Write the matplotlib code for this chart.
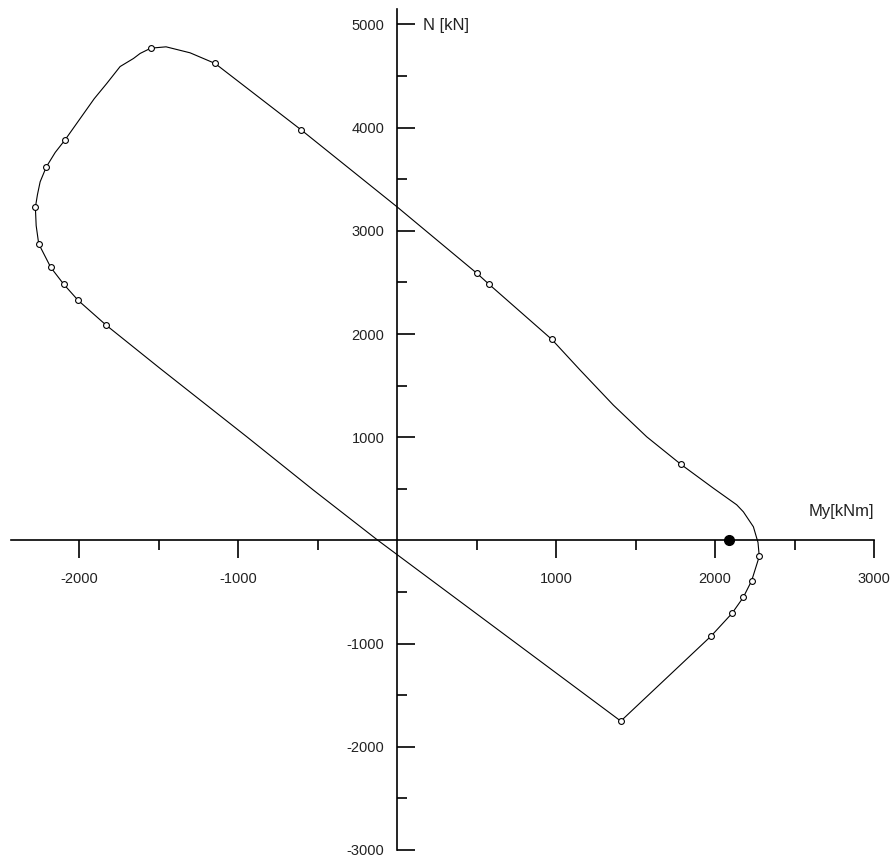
import numpy as np
import matplotlib
matplotlib.use("Agg")
import matplotlib.pyplot as plt
from matplotlib.ticker import FixedLocator

plt.rcParams['font.family'] = ['Liberation Sans', 'DejaVu Sans']

# interaction curve My-N (line)
curve_my = [1407, 1975, 2106, 2177, 2230, 2278, 2270, 2241, 2178, 2136, 1990,
            1786, 1570, 1361, 1151, 973, 579, 503, 0, -604, -1145, -1302,
            -1453, -1549, -1616, -1658, -1742, -1826, -1905, -2088, -2150,
            -2206, -2245, -2262, -2275, -2270, -2254, -2178, -2096, -2006,
            -1830, -1491, -945, -526, -120, 1407]
curve_n = [-1751, -927, -708, -553, -391, -155, -20, 132, 277, 345, 505,
           736, 1004, 1310, 1651, 1948, 2481, 2587, 3232, 3979, 4622, 4725,
           4783, 4770, 4719, 4670, 4592, 4428, 4280, 3882, 3760,
           3620, 3475, 3350, 3227, 3050, 2874, 2645, 2481, 2326,
           2086, 1667, 1004, 487, 0, -1751]

# calculated points (open circles)
pts_my = [1407, 1975, 2106, 2177, 2230, 2278, 1786, 973, 579, 503, -604,
          -1145, -1549, -2088, -2206, -2275, -2254, -2178, -2096, -2006, -1830]
pts_n = [-1751, -927, -708, -553, -391, -155, 736, 1948, 2481, 2587, 3979,
         4622, 4770, 3882, 3620, 3227, 2874, 2645, 2481, 2326, 2086]

# design load point
load_my = [2086]
load_n = [0]

x_major = [-2000, -1000, 1000, 2000, 3000]
x_minor = [-1500, -500, 500, 1500, 2500]
y_major = [-3000, -2000, -1000, 1000, 2000, 3000, 4000, 5000]
y_minor = [-2500, -1500, -500, 500, 1500, 2500, 3500, 4500]

fig = plt.figure(figsize=(8.94, 8.61), dpi=100)
ax = fig.add_axes([0.012, 0.0128, 0.9657, 0.9768])

ax.plot(curve_my, curve_n, color='black', lw=0.8)
ax.plot(pts_my, pts_n, 'o', ms=4.2, mfc='white', mec='black', mew=0.8)
ax.plot(load_my, load_n, 'o', ms=7, color='black')

ax.set_xlim(-2430, 3000)
ax.set_ylim(-3000, 5150)

for s in ['top', 'right']:
    ax.spines[s].set_visible(False)
ax.spines['left'].set_position(('data', 0))
ax.spines['bottom'].set_position(('data', 0))
ax.spines['left'].set_linewidth(1.2)
ax.spines['bottom'].set_linewidth(1.2)

ax.xaxis.set_major_locator(FixedLocator(x_major))
ax.xaxis.set_minor_locator(FixedLocator(x_minor))
ax.yaxis.set_major_locator(FixedLocator(y_major))
ax.yaxis.set_minor_locator(FixedLocator(y_minor))
ax.set_xticklabels([str(v) for v in x_major])
ax.set_yticklabels([str(v) for v in y_major])

ax.tick_params(axis='x', which='major', direction='out', length=13, width=1.2,
               pad=10, labelsize=10.5, labelcolor='#222222')
ax.tick_params(axis='x', which='minor', direction='out', length=7, width=1.2)
ax.tick_params(axis='y', which='major', direction='in', length=13, width=1.2,
               pad=9, labelsize=10.5, labelcolor='#222222')
ax.tick_params(axis='y', which='minor', direction='in', length=7, width=1.2)

ax.text(160, 4990, 'N [kN]', fontsize=12, color='#222222', ha='left', va='center')
ax.text(3000, 280, 'My[kNm]', fontsize=12, color='#222222', ha='right', va='center')

fig.savefig('out.png', dpi=100)
